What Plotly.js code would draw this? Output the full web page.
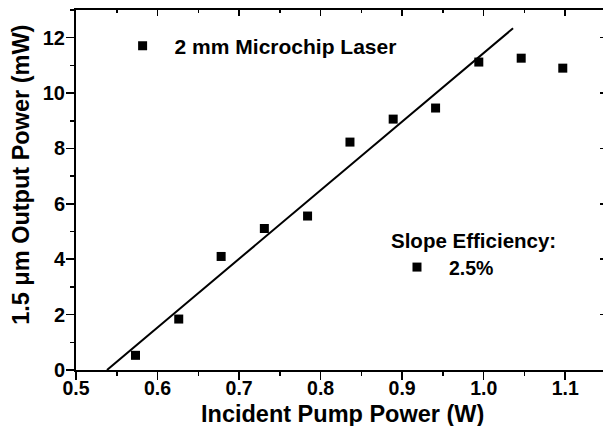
<!DOCTYPE html>
<html>
<head>
<meta charset="utf-8">
<script src="https://cdn.plot.ly/plotly-3.0.1.min.js"></script>
<style>
  html, body { margin: 0; padding: 0; overflow: hidden; background: #fff; }
  #chart { width: 610px; height: 426px; }
</style>
</head>
<body>
<div id="chart"></div>
<script>
// Measured data (incident pump power in W, output power in mW)
const pumpPower = [0.573, 0.626, 0.678, 0.731, 0.784, 0.836, 0.889, 0.941, 0.994, 1.046, 1.097];
const outputPower = [0.53, 1.84, 4.10, 5.11, 5.56, 8.23, 9.06, 9.46, 11.12, 11.26, 10.90];
// Linear fit (slope efficiency 2.5%)
const fitX = [0.538, 1.036];
const fitY = [0, 12.34];
const seriesName = '2 mm Microchip Laser';
const slopeTitle = 'Slope Efficiency:';
const slopeLabel = '2.5%';
const xTitle = 'Incident Pump Power (W)';
const yTitle = '1.5 μm Output Power (mW)';
const xTickVals = [0.5, 0.6, 0.7, 0.8, 0.9, 1.0, 1.1];
const xTickText = ['0.5', '0.6', '0.7', '0.8', '0.9', '1.0', '1.1'];
const yTickVals = [0, 2, 4, 6, 8, 10, 12];

const FONT = 'Liberation Sans, Arial, Helvetica, sans-serif';

const traces = [
  {
    x: pumpPower, y: outputPower, type: 'scatter', mode: 'markers',
    name: seriesName, legend: 'legend',
    marker: { symbol: 'square', size: 9, color: '#000' },
    hoverinfo: 'x+y'
  },
  {
    x: fitX, y: fitY, type: 'scatter', mode: 'lines',
    line: { color: '#000', width: 2 }, showlegend: false, hoverinfo: 'skip'
  },
  {
    x: [null], y: [null], type: 'scatter', mode: 'markers',
    name: slopeLabel, legend: 'legend2',
    marker: { symbol: 'square', size: 9, color: '#000' },
    hoverinfo: 'skip'
  },
  {
    x: [null], y: [null], type: 'scatter', mode: 'markers',
    xaxis: 'x2', yaxis: 'y2', showlegend: false, hoverinfo: 'skip'
  }
];

const common = { showgrid: false, zeroline: false, showline: true, linecolor: '#000', linewidth: 2 };

const layout = {
  width: 610, height: 426,
  margin: { l: 76, r: 3.6, t: 10, b: 56 },
  paper_bgcolor: '#fff', plot_bgcolor: '#fff',
  font: { family: FONT, color: '#000', weight: 'bold', size: 20 },
  xaxis: Object.assign({}, common, {
    range: [0.5, 1.15], tickvals: xTickVals, ticktext: xTickText,
    ticks: 'outside', ticklen: 8, tickwidth: 1.5, tickcolor: '#000',
    ticklabelstandoff: -8,
    minor: { dtick: 0.05, tick0: 0.5, ticks: 'outside', ticklen: 4, tickwidth: 1.5, tickcolor: '#000' },
    tickfont: { size: 19.5, family: FONT, weight: 'bold' }
  }),
  yaxis: Object.assign({}, common, {
    range: [0, 13], tickvals: yTickVals,
    ticks: 'outside', ticklen: 8, tickwidth: 1.5, tickcolor: '#000',
    ticklabelstandoff: -3,
    minor: { dtick: 1, tick0: 0, ticks: 'outside', ticklen: 4, tickwidth: 1.5, tickcolor: '#000' },
    tickfont: { size: 20, family: FONT, weight: 'bold' }
  }),
  xaxis2: Object.assign({}, common, {
    overlaying: 'x', side: 'top', anchor: 'y', range: [0.5, 1.15], tickvals: xTickVals,
    showticklabels: false, ticks: 'inside', ticklen: 6, tickwidth: 1.5, tickcolor: '#000',
    minor: { dtick: 0.05, tick0: 0.5, ticks: 'inside', ticklen: 3, tickwidth: 1.5, tickcolor: '#000' }
  }),
  yaxis2: Object.assign({}, common, {
    overlaying: 'y', side: 'right', anchor: 'x', range: [0, 13], tickvals: yTickVals,
    showticklabels: false, ticks: 'inside', ticklen: 6, tickwidth: 1.5, tickcolor: '#000',
    minor: { dtick: 1, tick0: 0, ticks: 'inside', ticklen: 3, tickwidth: 1.5, tickcolor: '#000' }
  }),
  legend: {
    x: 0.0653, y: 0.9, xanchor: 'left', yanchor: 'middle',
    bgcolor: 'rgba(0,0,0,0)', borderwidth: 0, itemwidth: 54,
    font: { size: 21, family: FONT, weight: 'bold' }
  },
  legend2: {
    x: 0.583, y: 0.285, xanchor: 'left', yanchor: 'middle',
    bgcolor: 'rgba(0,0,0,0)', borderwidth: 0, itemwidth: 54,
    font: { size: 19.5, family: FONT, weight: 'bold' }
  },
  annotations: [
    {
      text: slopeTitle, xref: 'paper', yref: 'paper',
      x: 0.59, y: 0.361, xanchor: 'left', yanchor: 'middle', showarrow: false,
      font: { size: 20.5, family: FONT, weight: 'bold', color: '#000' }
    },
    {
      text: xTitle, xref: 'paper', yref: 'paper',
      x: 0.5025, y: -0.123, xanchor: 'center', yanchor: 'middle', showarrow: false,
      font: { size: 23.5, family: FONT, weight: 'bold', color: '#000' }
    },
    {
      text: yTitle, xref: 'paper', yref: 'paper', textangle: -90,
      x: -0.104, y: 0.5417, xanchor: 'center', yanchor: 'middle', showarrow: false,
      font: { size: 23.5, family: FONT, weight: 'bold', color: '#000' }
    }
  ],
  showlegend: true
};

Plotly.newPlot('chart', traces, layout, { displayModeBar: false, staticPlot: true });
</script>
</body>
</html>
